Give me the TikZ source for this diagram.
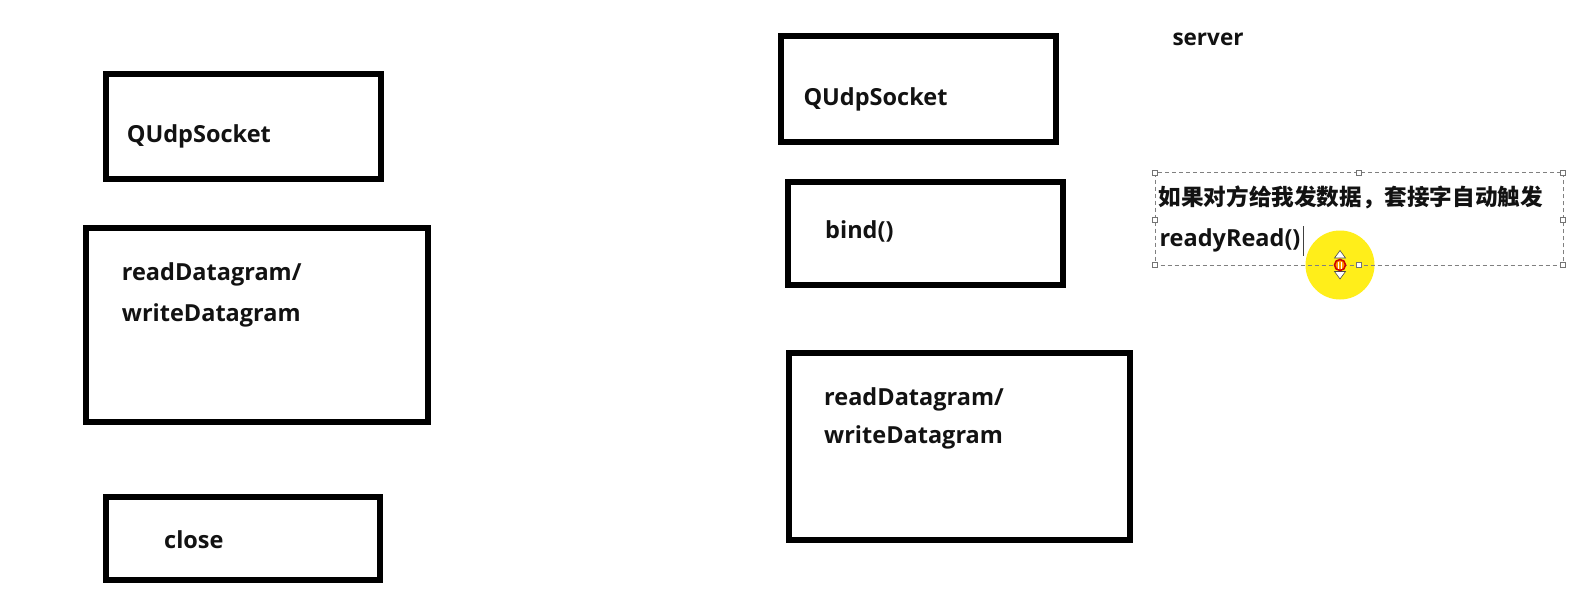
\documentclass[tikz,border=0pt]{standalone}
\usepackage{fontspec}
\newfontfamily\lat{Open Sans}
\newfontfamily\cjk{Noto Sans CJK SC}
\begin{document}
\begin{tikzpicture}[x=1pt,y=-1pt,
  stage/.style={draw=black, line width=6pt, fill=white, inner sep=0pt, rectangle},
  lbl/.style={anchor=base west, inner sep=0pt, text=black!93,
              font=\lat\bfseries\fontsize{23.5}{28}\selectfont},
  cjklbl/.style={anchor=base west, inner sep=0pt, text=black!93,
              font=\cjk\bfseries\fontsize{22.6}{28}\selectfont},
  handle/.style={draw=black!55, fill=white, line width=0.8pt, minimum size=5pt, inner sep=0pt, rectangle}
]
\useasboundingbox[fill=white] (0,0) rectangle (1582,607);

% client side
\node[stage, minimum width=275.3pt, minimum height=105pt] (csock) at (243.4,126.2) {};
\node[stage, minimum width=342pt, minimum height=194pt] (cdata) at (256.7,325.3) {};
\node[stage, minimum width=274pt, minimum height=83pt] (cclose) at (243,538) {};
\node[lbl] (tcsock) at (126.7,142.3) {QUdpSocket};
\node[lbl] (tcread) at (121.7,280.7) {readDatagram/};
\node[lbl] (tcwrite) at (121.7,321.7) {writeDatagram};
\node[lbl] (tcclose) at (164,548.3) {close};

% server side
\node[lbl, font=\lat\bfseries\fontsize{22.5}{28}\selectfont] (tserver) at (1172.3,45.7) {server};
\node[stage, minimum width=275.5pt, minimum height=105.2pt] (ssock) at (918.3,89.1) {};
\node[stage, minimum width=275pt, minimum height=103.5pt] (sbind) at (925.5,233.3) {};
\node[stage, minimum width=340.5pt, minimum height=187.5pt] (sdata) at (959.3,446.3) {};
\node[lbl] (tssock) at (803.3,106) {QUdpSocket};
\node[lbl] (tsbind) at (825,238.3) {bind()};
\node[lbl] (tsread) at (824,405) {readDatagram/};
\node[lbl] (tswrite) at (824,443.3) {writeDatagram};

% highlight of the pointer
\fill[yellow!95!orange!90] (1340,265) circle (34.5);

% selected text frame with its handles
\draw[black!50, line width=1pt, dash pattern=on 4pt off 3pt] (1155,172.7) rectangle (1563,265);
\foreach \hx/\hy/\hn in {1155/172.7/h1, 1359/172.7/h2, 1563/172.7/h3,
                         1155/219.5/h4, 1563/219.5/h5,
                         1155/265/h6, 1359/265/h7, 1563/265/h8}
  \node[handle] (\hn) at (\hx,\hy) {};

\node[cjklbl] (tnote) at (1158.5,205) {如果对方给我发数据，套接字自动触发};
\node[lbl] (tready) at (1159.3,246.7) {readyRead()};
\draw[black!75, line width=1.5pt] ([xshift=3pt]tready.east |- 0,226) -- ([xshift=3pt]tready.east |- 0,256);

% resize pointer
\fill[white, draw=black!70, line width=0.6pt] (1340,250.5) -- (1345.5,258) -- (1334.5,258) -- cycle;
\fill[white, draw=black!70, line width=0.6pt] (1340,279) -- (1345.5,271.5) -- (1334.5,271.5) -- cycle;
\filldraw[fill=orange!80!yellow, draw=red!80!black, line width=1.6pt] (1340,265) circle (5.5);
\draw[white, line width=0.8pt] (1338.6,261.5) -- (1338.6,268.5) (1341.4,261.5) -- (1341.4,268.5);
\end{tikzpicture}
\end{document}
